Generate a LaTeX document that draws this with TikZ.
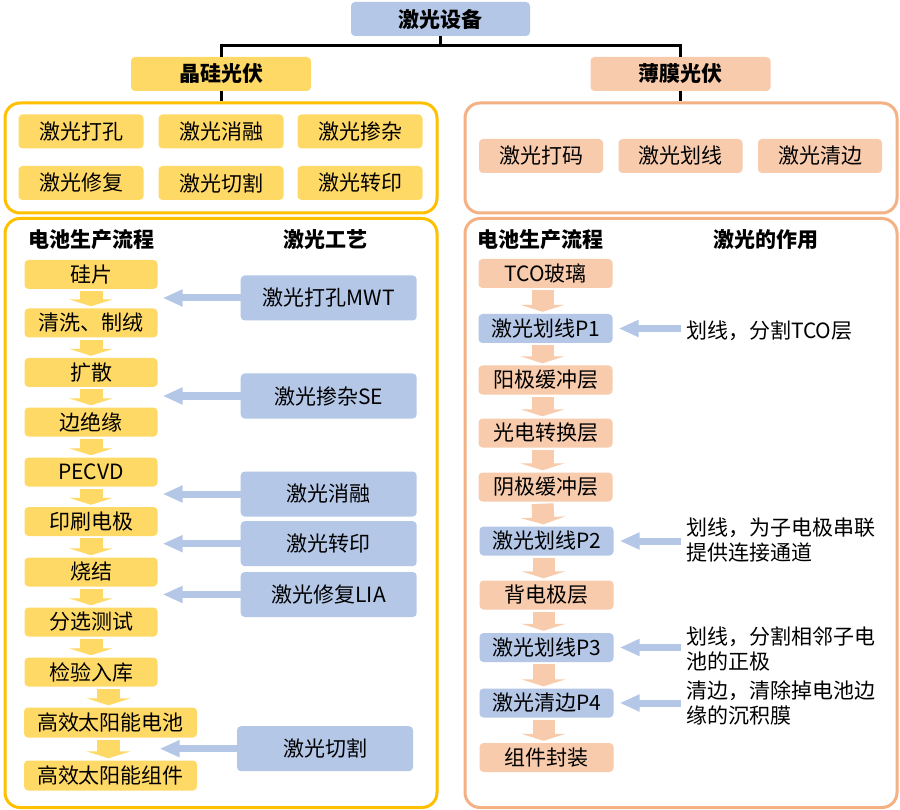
\documentclass[tikz,border=0pt]{standalone}
\usepackage{fontspec}
\newfontfamily\cjk{Noto Sans CJK SC}
\usetikzlibrary{arrows.meta}

\definecolor{gold}{HTML}{FFD966}
\definecolor{goldline}{HTML}{FFC000}
\definecolor{peach}{HTML}{F8CBAD}
\definecolor{peachline}{HTML}{F4B183}
\definecolor{steel}{HTML}{B4C7E7}

\tikzset{
	tag/.style={rounded corners=4pt, inner sep=0pt, font=\cjk\fontsize{21}{24}\selectfont},
	goldtag/.style={tag, fill=gold, minimum width=125pt, minimum height=34pt},
	peachtag/.style={tag, fill=peach, minimum width=124pt, minimum height=34pt},
	goldflow/.style={tag, fill=gold, minimum width=133pt, minimum height=29pt},
	peachflow/.style={tag, fill=peach, minimum width=134pt, minimum height=29pt},
	steelflow/.style={tag, fill=steel, minimum width=134pt, minimum height=29pt},
	laser/.style={tag, fill=steel, minimum width=176pt, minimum height=45pt},
	head/.style={tag, font=\cjk\bfseries\fontsize{21}{24}\selectfont},
	note/.style={tag, anchor=west, align=left, font=\cjk\fontsize{21}{25}\selectfont},
	frame/.style={rounded corners=15pt, line width=3pt, fill=white},
	tree/.style={line width=3pt, black},
	golddown/.style={draw=gold, line width=23pt, -{Triangle[width=44pt,length=7pt]}, shorten <=2pt, shorten >=2pt},
	peachdown/.style={draw=peach, line width=22pt, -{Triangle[width=44pt,length=7pt]}, shorten <=2pt, shorten >=2pt},
	steelleft/.style={draw=steel, line width=7pt, -{Triangle[width=16pt,length=20pt]}}
}

\begin{document}
\begin{tikzpicture}[x=1pt,y=-1pt]
	\fill[white] (0,0) rectangle (900,810);
	\useasboundingbox (0,0) rectangle (900,810);

	% Frames
	\node[frame, draw=goldline, minimum width=432pt, minimum height=110pt] (gf1) at (221,158) {};
	\node[frame, draw=goldline, minimum width=432pt, minimum height=589pt] (gf2) at (221,513) {};
	\node[frame, draw=peachline, minimum width=432pt, minimum height=110pt] (pf1) at (681,158) {};
	\node[frame, draw=peachline, minimum width=432pt, minimum height=589pt] (pf2) at (681,513) {};

	% Tree
	\node[tag, fill=steel, minimum width=179pt, minimum height=34pt, font=\cjk\bfseries\fontsize{21}{24}\selectfont] (top) at (440.5,19) {激光设备};
	\node[goldtag, minimum width=180pt, font=\cjk\bfseries\fontsize{21}{24}\selectfont] (jg) at (221,74) {晶硅光伏};
	\node[peachtag, minimum width=180pt, font=\cjk\bfseries\fontsize{21}{24}\selectfont] (bm) at (680.5,74) {薄膜光伏};
	\coordinate (fork) at (440.5,46);
	\draw[tree] (top.south) -- (fork);
	\draw[tree] (jg.north) |- (fork) -| (bm.north);
	\draw[tree] (jg.south) -- (jg.south |- gf1.north);
	\draw[tree] (bm.south) -- (bm.south |- pf1.north);

	% Crystalline silicon: laser kinds
	\node[goldtag] (g1) at (81,131.5) {激光打孔};
	\node[goldtag] (g2) at (221,131.5) {激光消融};
	\node[goldtag] (g3) at (360,131.5) {激光掺杂};
	\node[goldtag] (g4) at (81,183) {激光修复};
	\node[goldtag] (g5) at (221,183) {激光切割};
	\node[goldtag] (g6) at (360,183) {激光转印};

	% Thin film: laser kinds
	\node[peachtag] (p1) at (541,156) {激光打码};
	\node[peachtag] (p2) at (680.5,156) {激光划线};
	\node[peachtag] (p3) at (820,156) {激光清边};

	% Crystalline silicon: process
	\node[head] (lh1) at (91.5,240) {电池生产流程};
	\node[head] (lh2) at (325,240) {激光工艺};
	\foreach \name/\y/\txt in {f1/274.5/硅片, f2/323/清洗、制绒, f3/372.5/扩散, f4/422/边绝缘, f5/472/PECVD, f6/521.5/印刷电极, f7/572/烧结, f8/622/分选测试, f9/672/检验入库}
		\node[goldflow] (\name) at (91,\y) {\txt};
	\node[goldflow, minimum width=173pt, minimum height=30pt] (f10) at (110.5,722.5) {高效太阳能电池};
	\node[goldflow, minimum width=173pt, minimum height=30pt] (f11) at (110.5,775.5) {高效太阳能组件};
	\foreach \a/\b in {f1/f2, f2/f3, f3/f4, f4/f5, f5/f6, f6/f7, f7/f8, f8/f9}
		\draw[golddown] (\a) -- (\b);
	\draw[golddown] ([xshift=-2pt]f9.south -| f10) -- ([xshift=-2pt]f10.north);
	\draw[golddown] ([xshift=-2pt]f10.south) -- ([xshift=-2pt]f11.north);

	\node[laser] (mwt) at (328.7,298) {激光打孔MWT};
	\node[laser] (se) at (328.7,396) {激光掺杂SE};
	\node[laser] (abl) at (328.7,494) {激光消融};
	\node[laser] (tra) at (328.7,543.7) {激光转印};
	\node[laser] (lia) at (328.7,594.5) {激光修复LIA};
	\node[laser] (cut) at (325,748.7) {激光切割};
	\foreach \l in {mwt, se, abl, tra, lia}
		\draw[steelleft, shorten >=5pt] (\l.west) -- (\l.west -| f1.east);
	\draw[steelleft, shorten >=2pt] (cut.west) -- (cut.west -| f1.east);

	% Thin film: process
	\node[head] (rh1) at (540,240) {电池生产流程};
	\node[head] (rh2) at (766,240) {激光的作用};
	\node[peachflow] (t1) at (545.5,273.5) {TCO玻璃};
	\node[steelflow] (t2) at (545.5,328.5) {激光划线P1};
	\node[peachflow] (t3) at (545.5,380) {阳极缓冲层};
	\node[peachflow] (t4) at (545.5,433) {光电转换层};
	\node[peachflow] (t5) at (545.5,487) {阴极缓冲层};
	\node[steelflow] (t6) at (546.5,541) {激光划线P2};
	\node[peachflow] (t7) at (546.5,595) {背电极层};
	\node[steelflow] (t8) at (546.5,647.5) {激光划线P3};
	\node[steelflow] (t9) at (546.5,703) {激光清边P4};
	\node[peachflow] (t10) at (546.5,757.5) {组件封装};
	\foreach \a/\b in {t1/t2, t2/t3, t3/t4, t4/t5, t5/t6, t6/t7, t7/t8, t8/t9, t9/t10}
		\draw[peachdown] ([xshift=-3pt]\a.south) -- ([xshift=-3pt]\b.north);

	\node[note] (n1) at (686,331) {划线，分割TCO层};
	\node[note] (n2) at (686,540.5) {划线，为子电极串联\\提供连接通道};
	\node[note] (n3) at (686,649) {划线，分割相邻子电\\池的正极};
	\node[note] (n4) at (686,703) {清边，清除掉电池边\\缘的沉积膜};
	\foreach \n/\t in {n1/t2, n2/t6, n3/t8, n4/t9}
		\draw[steelleft, shorten <=5pt, shorten >=6pt] (\n.west |- \t) -- (\t.east);
\end{tikzpicture}
\end{document}
